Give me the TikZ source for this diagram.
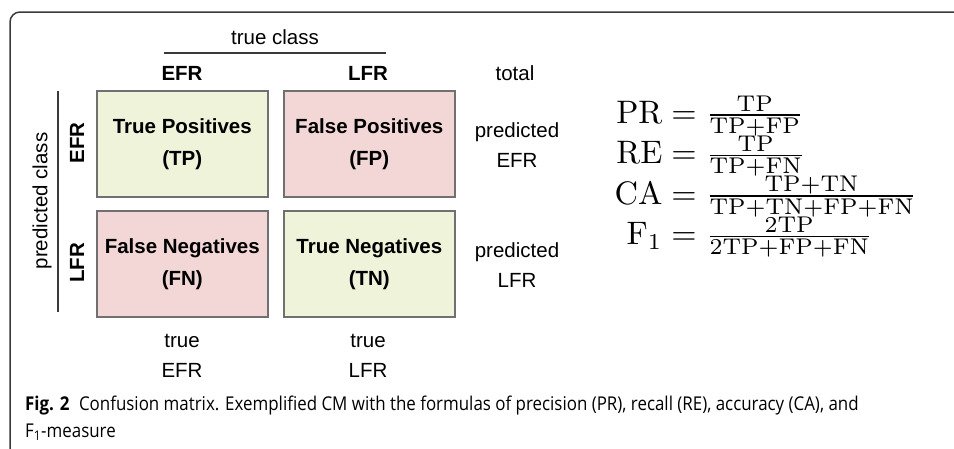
\documentclass[tikz,border=0pt]{standalone}
\usepackage{fontspec}
\newfontfamily\diag{Liberation Sans}
\newfontfamily\capfont[FakeStretch=0.89]{Open Sans}
\definecolor{boxgray}{HTML}{707070}
\definecolor{goodfill}{HTML}{EEF3D9}
\definecolor{badfill}{HTML}{F3D7D7}
\definecolor{framegray}{HTML}{3A3A3A}
\newcommand{\tightfracs}{\fontdimen9\textfont2=3.6pt \fontdimen12\textfont2=3.2pt }
\begin{document}
\begin{tikzpicture}[x=1pt,y=-1pt,
  cell/.style={draw=boxgray, line width=1.6pt, minimum width=171pt, minimum height=106pt,
    anchor=north west, align=center, inner sep=0pt,
    font=\diag\bfseries\fontsize{20.5}{32}\selectfont},
  lab/.style={font=\diag\fontsize{20.5}{30}\selectfont, align=center, inner sep=0pt},
  blab/.style={font=\diag\bfseries\fontsize{20.5}{30}\selectfont, inner sep=0pt},
  rule/.style={draw=framegray, line width=1.3pt},
  formula/.style={anchor=base west, inner sep=0pt, scale=3.25},
  captext/.style={anchor=base west, inner sep=0pt, font=\capfont\fontsize{19}{28}\selectfont}]
\useasboundingbox (0,0) rectangle (954,448);
\draw[framegray, line width=1.5pt, rounded corners=10pt] (955,12) -- (10,12) -- (10,449);

% header
\node[lab] (tc) at (275,37) {true class};
\coordinate (tcl) at (164,53);
\coordinate (tcr) at (386,53);
\draw[rule] (tcl) -- (tcr);
\node[blab] (hefr) at (182,73) {EFR};
\node[blab] (hlfr) at (368,73) {LFR};
\node[lab] (tot) at (515,73) {total};

% cells
\node[cell, fill=goodfill] (tp) at (96,90) {True Positives\\(TP)};
\node[cell, fill=badfill] (fp) at (283,90) {False Positives\\(FP)};
\node[cell, fill=badfill] (fn) at (96,210) {False Negatives\\(FN)};
\node[cell, fill=goodfill] (tn) at (283,210) {True Negatives\\(TN)};

% left labels
\node[blab, rotate=90] (vefr) at (77,143) {EFR};
\node[blab, rotate=90] (vlfr) at (77,263) {LFR};
\coordinate (pct) at (58,91);
\coordinate (pcb) at (58,312);
\draw[rule] (pct) -- (pcb);
\node[lab, rotate=90] (pc) at (42,201) {predicted class};

% right labels
\node[lab] (pe) at (517,145) {predicted\\EFR};
\node[lab] (pl) at (517,265) {predicted\\LFR};

% bottom labels
\node[lab] (te) at (182,356) {true\\EFR};
\node[lab] (tl) at (368,356) {true\\LFR};

% formulas
\node[formula] (fpr) at (613,123) {$\tightfracs\makebox[15pt][r]{$\mathrm{PR}$}=\frac{\mathrm{TP}}{\mathrm{TP+FP}}$};
\node[formula] (fre) at (613,163.5) {$\tightfracs\makebox[15pt][r]{$\mathrm{RE}$}=\frac{\mathrm{TP}}{\mathrm{TP+FN}}$};
\node[formula] (fca) at (613,204) {$\tightfracs\makebox[15pt][r]{$\mathrm{CA}$}=\frac{\mathrm{TP+TN}}{\mathrm{TP+TN+FP+FN}}$};
\node[formula] (ff1) at (613,244.5) {$\tightfracs\makebox[15pt][r]{$\mathrm{F}_1$}=\frac{\mathrm{2TP}}{\mathrm{2TP+FP+FN}}$};

% caption
\node[captext] (cap1) at (25,410)
  {\textbf{Fig. 2}\enspace Confusion matrix. Exemplified CM with the formulas of precision (PR), recall (RE), accuracy (CA), and};
\node[captext] (cap2) at (25,437) {F\textsubscript{1}-measure};
\end{tikzpicture}
\end{document}
